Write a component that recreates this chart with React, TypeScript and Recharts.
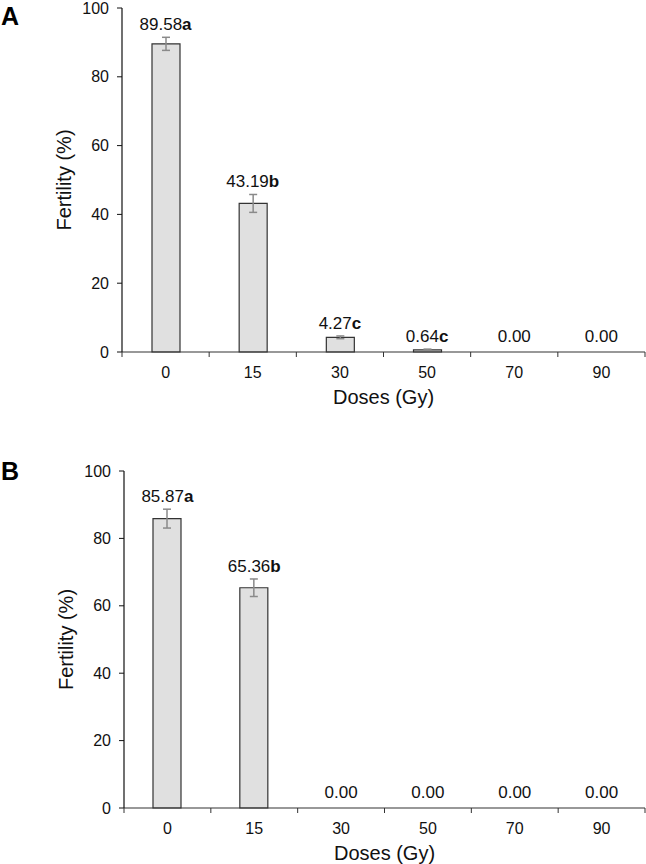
import React from 'react';
import { ComposedChart, Bar, Line, XAxis, YAxis, ErrorBar } from 'recharts';

const doses = ['0', '15', '30', '50', '70', '90'];
const fertilityA = [89.58, 43.19, 4.27, 0.64, 0.0, 0.0];
const errorA = [1.9, 2.6, 0.4, 0.2, 0, 0];
const lettersA = ['a', 'b', 'c', 'c', '', ''];
const fertilityB = [85.87, 65.36, 0.0, 0.0, 0.0, 0.0];
const errorB = [2.8, 2.6, 0, 0, 0, 0];
const lettersB = ['a', 'b', '', '', '', ''];
const yTicks = [0, 20, 40, 60, 80, 100];

const FONT = '"Liberation Sans", Arial, Helvetica, sans-serif';
const W = 646;
const Y_AXIS_W = 60;
const M_RIGHT = 1;

type PanelProps = {
  letter: string;
  values: number[];
  errors: number[];
  letters: string[];
  top: number;
  height: number;
  marginTop: number;
  marginLeft: number;
  plotHeight: number;
  xAxisHeight: number;
  letterBaseline: number;
};

const makeTick = (band: number, n: number) => (props: any) => {
  const { x, y, payload, index } = props;
  const left = x - band / 2;
  const right = x + band / 2;
  return (
    <g>
      <line x1={left} y1={y} x2={left} y2={y + 5} stroke="#333" strokeWidth={1} />
      {index === n - 1 && <line x1={right} y1={y} x2={right} y2={y + 5} stroke="#333" strokeWidth={1} />}
      <text x={x} y={y + 26} textAnchor="middle" fontSize={16} fill="#111" fontFamily={FONT}>
        {payload.value}
      </text>
    </g>
  );
};

const YTitle = (props: any) => {
  const vb = props.viewBox || props;
  const cx = vb.x + 2;
  const cy = vb.y + vb.height / 2;
  return (
    <text
      x={cx}
      y={cy}
      transform={`rotate(-90 ${cx} ${cy})`}
      textAnchor="middle"
      dominantBaseline="central"
      fontSize={20}
      fill="#111"
      fontFamily={FONT}
    >
      Fertility (%)
    </text>
  );
};

const XTitle = (props: any) => {
  const vb = props.viewBox || props;
  const cx = vb.x + vb.width / 2;
  return (
    <text x={cx} y={vb.y + 52} textAnchor="middle" fontSize={20} fill="#111" fontFamily={FONT}>
      Doses (Gy)
    </text>
  );
};

const makeValueDot = (letters: string[]) => (props: any) => {
  const { cx, cy, index, payload } = props;
  const value = Number(payload.value);
  const baseline = value > 0 ? cy - 7 : cy - 10;
  return (
    <text key={`lbl-${index}`} x={cx} y={baseline} textAnchor="middle" fontSize={17} fill="#111" fontFamily={FONT}>
      <tspan>{value.toFixed(2)}</tspan>
      {letters[index] ? <tspan fontWeight="bold">{letters[index]}</tspan> : null}
    </text>
  );
};

function Panel(p: PanelProps) {
  const data = doses.map((d, i) => ({
    dose: d,
    value: p.values[i],
    err: p.errors[i],
    top: p.values[i] + p.errors[i],
  }));
  const plotWidth = W - p.marginLeft - Y_AXIS_W - M_RIGHT;
  const band = plotWidth / doses.length;
  const marginBottom = p.height - p.marginTop - p.plotHeight - p.xAxisHeight;
  return (
    <div style={{ position: 'absolute', top: p.top, left: 0, width: W, height: p.height }}>
      <ComposedChart
        width={W}
        height={p.height}
        data={data}
        margin={{ top: p.marginTop, right: M_RIGHT, left: p.marginLeft, bottom: marginBottom }}
        barCategoryGap={0}
      >
        <XAxis
          dataKey="dose"
          type="category"
          interval={0}
          height={p.xAxisHeight}
          tickLine={false}
          tickSize={0}
          tickMargin={0}
          axisLine={{ stroke: '#333', strokeWidth: 1.2 }}
          tick={makeTick(band, doses.length)}
          label={<XTitle />}
        />
        <YAxis
          type="number"
          domain={[0, 100]}
          ticks={yTicks}
          interval={0}
          width={Y_AXIS_W}
          tickSize={5}
          tickMargin={8}
          tickLine={{ stroke: '#111' }}
          axisLine={{ stroke: '#111', strokeWidth: 1.2 }}
          tick={{ fontSize: 16, fill: '#111', fontFamily: FONT }}
          label={<YTitle />}
        />
        <Bar
          dataKey="value"
          barSize={28}
          fill="#e0e0e0"
          stroke="#333"
          strokeWidth={1.2}
          isAnimationActive={false}
        >
          <ErrorBar dataKey="err" width={4} stroke="#8a8a8a" strokeWidth={1.5} direction="y" isAnimationActive={false} />
        </Bar>
        <Line
          dataKey="top"
          stroke="none"
          strokeWidth={0}
          dot={makeValueDot(p.letters)}
          activeDot={false}
          isAnimationActive={false}
          legendType="none"
        />
      </ComposedChart>
      <svg style={{ position: 'absolute', left: 0, top: 0 }} width={40} height={40}>
        <text x={1} y={p.letterBaseline} fontSize={25} fontWeight="bold" fill="#000" fontFamily={FONT}>
          {p.letter}
        </text>
      </svg>
    </div>
  );
}

export default function App() {
  return (
    <div style={{ position: 'absolute', top: 0, left: 0, width: W, height: 864, background: '#fff' }}>
      <Panel
        letter="A"
        values={fertilityA}
        errors={errorA}
        letters={lettersA}
        top={0}
        height={420}
        marginTop={8}
        marginLeft={62}
        plotHeight={344}
        xAxisHeight={60}
        letterBaseline={25}
      />
      <Panel
        letter="B"
        values={fertilityB}
        errors={errorB}
        letters={lettersB}
        top={458}
        height={406}
        marginTop={13}
        marginLeft={64}
        plotHeight={337}
        xAxisHeight={50}
        letterBaseline={22}
      />
    </div>
  );
}
